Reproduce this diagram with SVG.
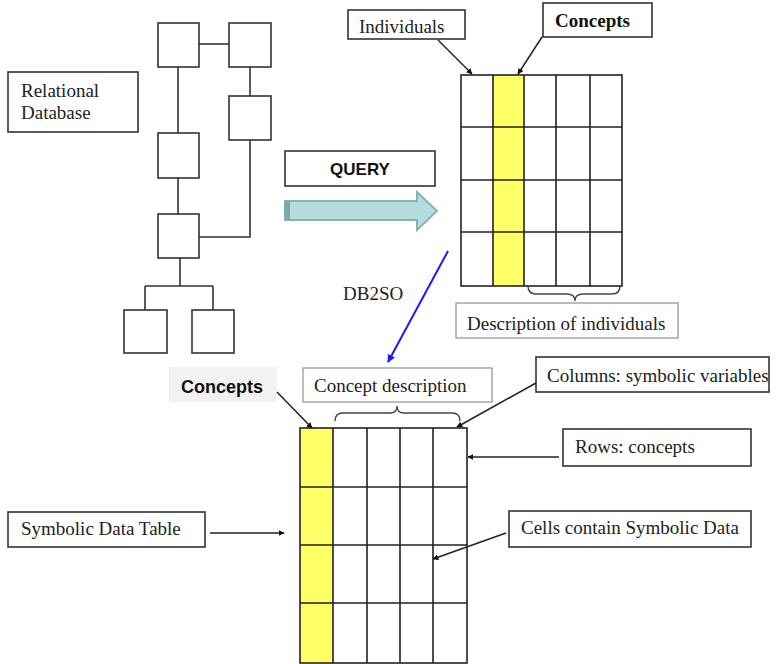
<svg xmlns="http://www.w3.org/2000/svg" width="780" height="664" viewBox="0 0 780 664">
<style>
.box{fill:#fff;stroke:#333;stroke-width:1.6}
.lbox{fill:#fff;stroke:#999;stroke-width:1.3}
.t{font-family:"Liberation Serif","Times New Roman",serif;font-size:19px;fill:#222}
.tb{font-family:"Liberation Serif","Times New Roman",serif;font-size:19px;font-weight:bold;fill:#111}
.sb{font-family:"Liberation Sans",Arial,sans-serif;font-weight:bold;fill:#111}
.ln{fill:none;stroke:#333;stroke-width:1.6}
.grid{fill:none;stroke:#222;stroke-width:1.6}
.arr{fill:none;stroke:#222;stroke-width:1.5;marker-end:url(#ah)}
.brace{fill:none;stroke:#444;stroke-width:1.4}
</style>
<defs>
<marker id="ah" viewBox="0 0 10 10" refX="9" refY="5" markerWidth="6" markerHeight="6" orient="auto" markerUnits="userSpaceOnUse">
<path d="M0,0 L10,5 L0,10 z" fill="#111"/>
</marker>
<marker id="ahb" viewBox="0 0 10 10" refX="9" refY="5" markerWidth="8" markerHeight="8" orient="auto" markerUnits="userSpaceOnUse">
<path d="M0,0 L10,5 L0,10 z" fill="#1a1aff"/>
</marker>
</defs>
<rect width="780" height="664" fill="#fff"/>

<!-- Relational database schema -->
<g id="db-connectors">
<path class="ln" d="M199,44 H229"/>
<path class="ln" d="M178,67 V133"/>
<path class="ln" d="M250,67 V96"/>
<path class="ln" d="M178,178 V214"/>
<path class="ln" d="M250,140 V237 H199"/>
<path class="ln" d="M180,258 V286 M145,286 H213 M145,286 V310 M213,286 V310"/>
</g>
<g id="t1"><rect class="box" x="158" y="23" width="41" height="44"/></g>
<g id="t2"><rect class="box" x="229" y="23" width="42" height="44"/></g>
<g id="t3"><rect class="box" x="229" y="96" width="42" height="44"/></g>
<g id="t4"><rect class="box" x="158" y="133" width="41" height="45"/></g>
<g id="t5"><rect class="box" x="158" y="214" width="41" height="44"/></g>
<g id="t6"><rect class="box" x="124" y="310" width="43" height="43"/></g>
<g id="t7"><rect class="box" x="192" y="310" width="42" height="43"/></g>

<g id="relational-db">
<rect class="box" x="8" y="72" width="130" height="60"/>
<text class="t" x="21" y="97">Relational</text>
<text class="t" x="21" y="119">Database</text>
</g>

<g id="query">
<rect class="box" x="285" y="151" width="150" height="35"/>
<text class="sb" x="360" y="175" font-size="17" text-anchor="middle">QUERY</text>
</g>
<g id="query-arrow">
<polygon points="285,201 417,201 417,192 437,211 417,230 417,220 285,220" fill="#b6dcdd" stroke="#86b3b4" stroke-width="2"/>
<rect x="285" y="201" width="5" height="19" fill="#7fa8aa"/>
</g>

<!-- Individuals table -->
<g id="individual-table">
<rect x="493" y="75" width="31" height="211" fill="#ffff66"/>
<rect class="grid" x="461" y="75" width="161" height="211"/>
<path class="grid" d="M493,75 V286 M524,75 V286 M556,75 V286 M590,75 V286 M461,127 H622 M461,180 H622 M461,232 H622"/>
<path class="brace" d="M528,286 Q528,294 536,294 L567,294 Q575,294 575,301 Q575,294 583,294 L612,294 Q620,294 620,286"/>
</g>
<g id="individuals">
<rect class="box" x="348" y="10" width="117" height="29"/>
<text class="t" x="359" y="33">Individuals</text>
</g>
<g id="concepts-top">
<rect class="box" x="543" y="3" width="109" height="34"/>
<text class="tb" x="555" y="27">Concepts</text>
</g>
<g id="description-individuals">
<rect class="lbox" x="456" y="303" width="222" height="35"/>
<text class="t" x="467" y="330">Description of individuals</text>
</g>

<text class="t" x="343" y="300">DB2SO</text>

<!-- Symbolic table -->
<g id="symbolic-table">
<rect x="300" y="428" width="33" height="235" fill="#ffff66"/>
<rect class="grid" x="300" y="428" width="167" height="235"/>
<path class="grid" d="M333,428 V663 M367,428 V663 M400,428 V663 M433,428 V663 M300,487 H467 M300,545 H467 M300,603 H467"/>
<path class="brace" d="M335,421 Q335,413 343,413 L390,413 Q397,413 397,406 Q397,413 404,413 L452,413 Q460,413 460,421"/>
</g>
<g id="concepts-bottom">
<rect x="169" y="367" width="108" height="35" fill="#f2f2f2"/>
<text class="sb" x="181" y="393" font-size="18">Concepts</text>
</g>
<g id="concept-description">
<rect class="lbox" x="303" y="368" width="189" height="34"/>
<text class="t" x="314" y="392">Concept description</text>
</g>
<g id="columns">
<rect class="box" x="536" y="357" width="233" height="35"/>
<text class="t" x="547" y="382">Columns: symbolic variables</text>
</g>
<g id="rows">
<rect class="box" x="563" y="429" width="188" height="37"/>
<text class="t" x="575" y="453">Rows: concepts</text>
</g>
<g id="cells">
<rect class="box" x="509" y="511" width="242" height="36"/>
<text class="t" x="521" y="534">Cells contain Symbolic Data</text>
</g>
<g id="sdt">
<rect class="box" x="8" y="512" width="197" height="35"/>
<text class="t" x="21" y="535">Symbolic Data Table</text>
</g>

<g id="connectors">
<line class="arr" x1="438" y1="40" x2="472" y2="74"/>
<line class="arr" x1="542" y1="37" x2="518" y2="74"/>
<line x1="448" y1="251" x2="388" y2="362" stroke="#1a1aff" stroke-width="2" marker-end="url(#ahb)"/>
<line class="arr" x1="277" y1="392" x2="312" y2="428"/>
<line class="arr" x1="536" y1="383" x2="457" y2="427"/>
<line class="arr" x1="559" y1="457" x2="468" y2="457"/>
<line class="arr" x1="506" y1="533" x2="433" y2="559"/>
<line class="arr" x1="210" y1="533" x2="284" y2="533"/>
</g>
</svg>
